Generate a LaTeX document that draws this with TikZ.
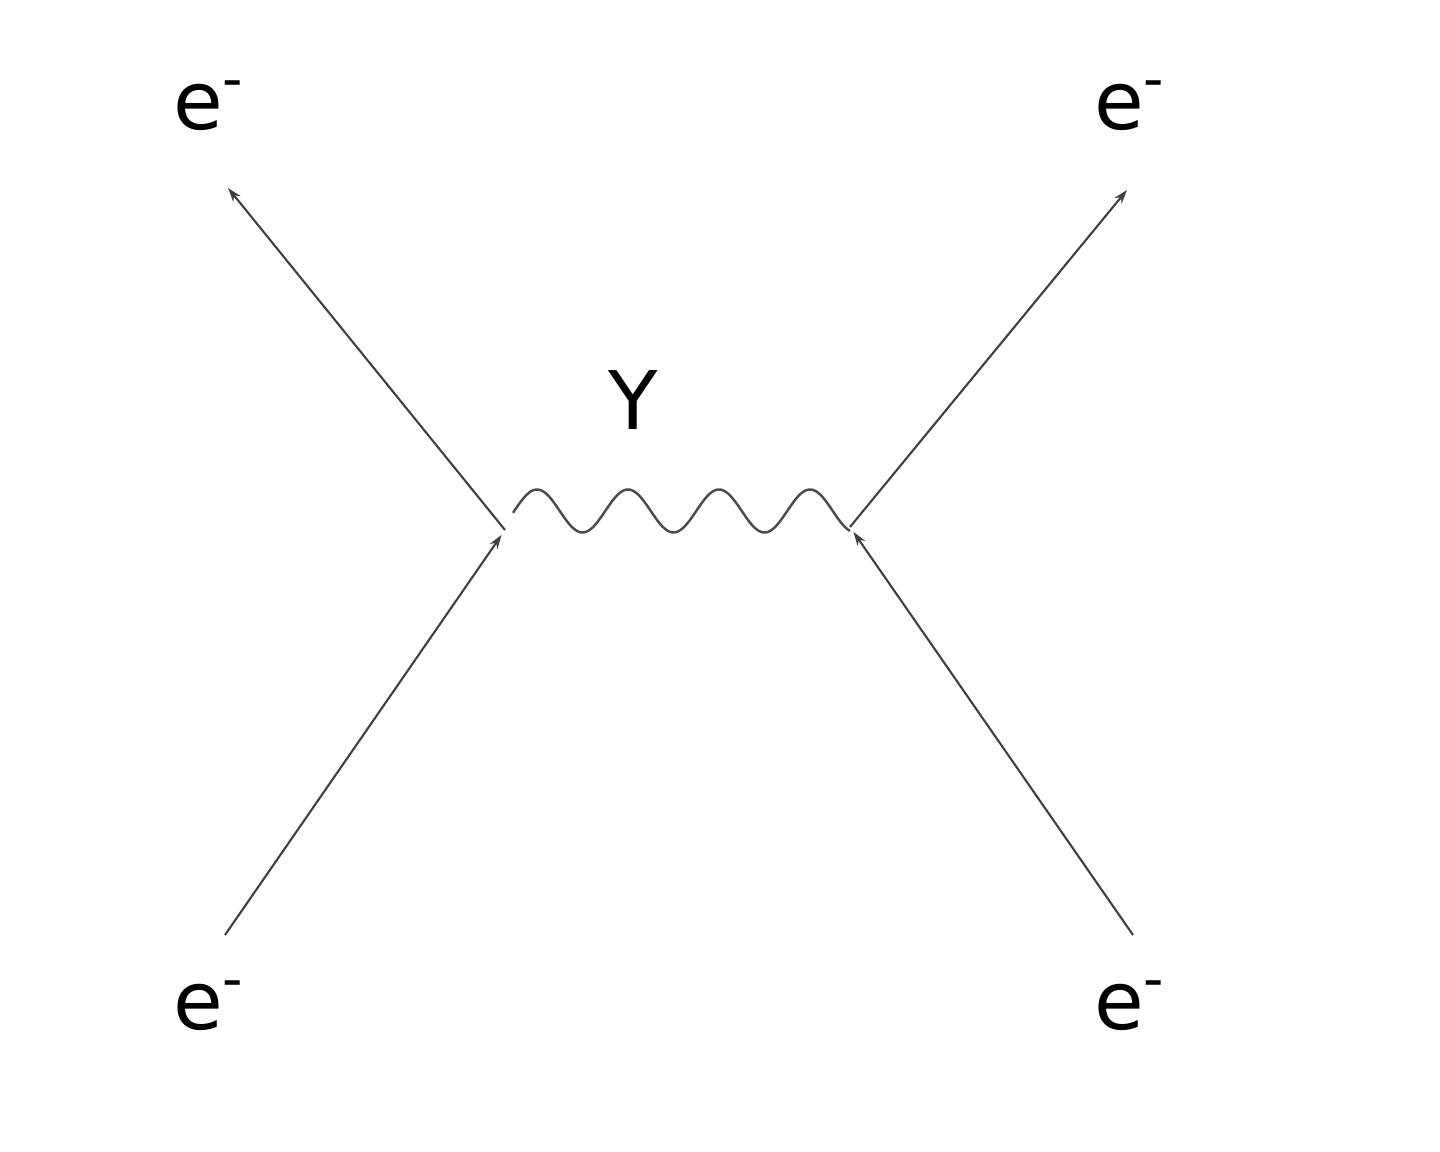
\documentclass[tikz,border=0pt]{standalone}
\usepackage{fontspec}
\setmainfont{DejaVu Sans}
\usetikzlibrary{arrows.meta}

\begin{document}
\begin{tikzpicture}[every node/.style={inner sep=0pt, anchor=base, font=\fontsize{23}{28}\selectfont},
    fermion/.style={draw=black!75, line width=0.6pt, -{Stealth[length=4pt,width=2.6pt]}},
    photon/.style={draw=black!70, line width=0.7pt}]
                \useasboundingbox (0,0) rectangle (14.4,11.52);
                % Les vertex
                \coordinate (L) at (5.05,6.22);
                \coordinate (R) at (8.50,6.25);
                \coordinate (TL) at (2.28,9.64);
                \coordinate (TR) at (11.27,9.62);
                \coordinate (BL) at (2.25,2.17);
                \coordinate (BR) at (11.33,2.17);

                % Les particules
                \node (eTL) at (2.09,10.22) {e\textsuperscript{-}};
                \node (eTR) at (11.30,10.22) {e\textsuperscript{-}};
                \node (eBL) at (2.09,1.22) {e\textsuperscript{-}};
                \node (eBR) at (11.30,1.22) {e\textsuperscript{-}};
                \node (gamma) at (6.33,7.22) {Y};

                % Les propagateurs
                \draw[fermion] (L) -- (TL);
                \draw[fermion] (R) -- (TR);
                \draw[fermion, shorten >=0.06cm] (BL) -- (L);
                \draw[fermion, shorten >=0.06cm] (BR) -- (R);
                \draw[photon, shift={(L)}] plot[domain=0.08:3.45, samples=150, smooth]
                    (\x, {0.19+0.215*cos(360*(\x-0.32)/0.91)});
            \end{tikzpicture}
\end{document}
